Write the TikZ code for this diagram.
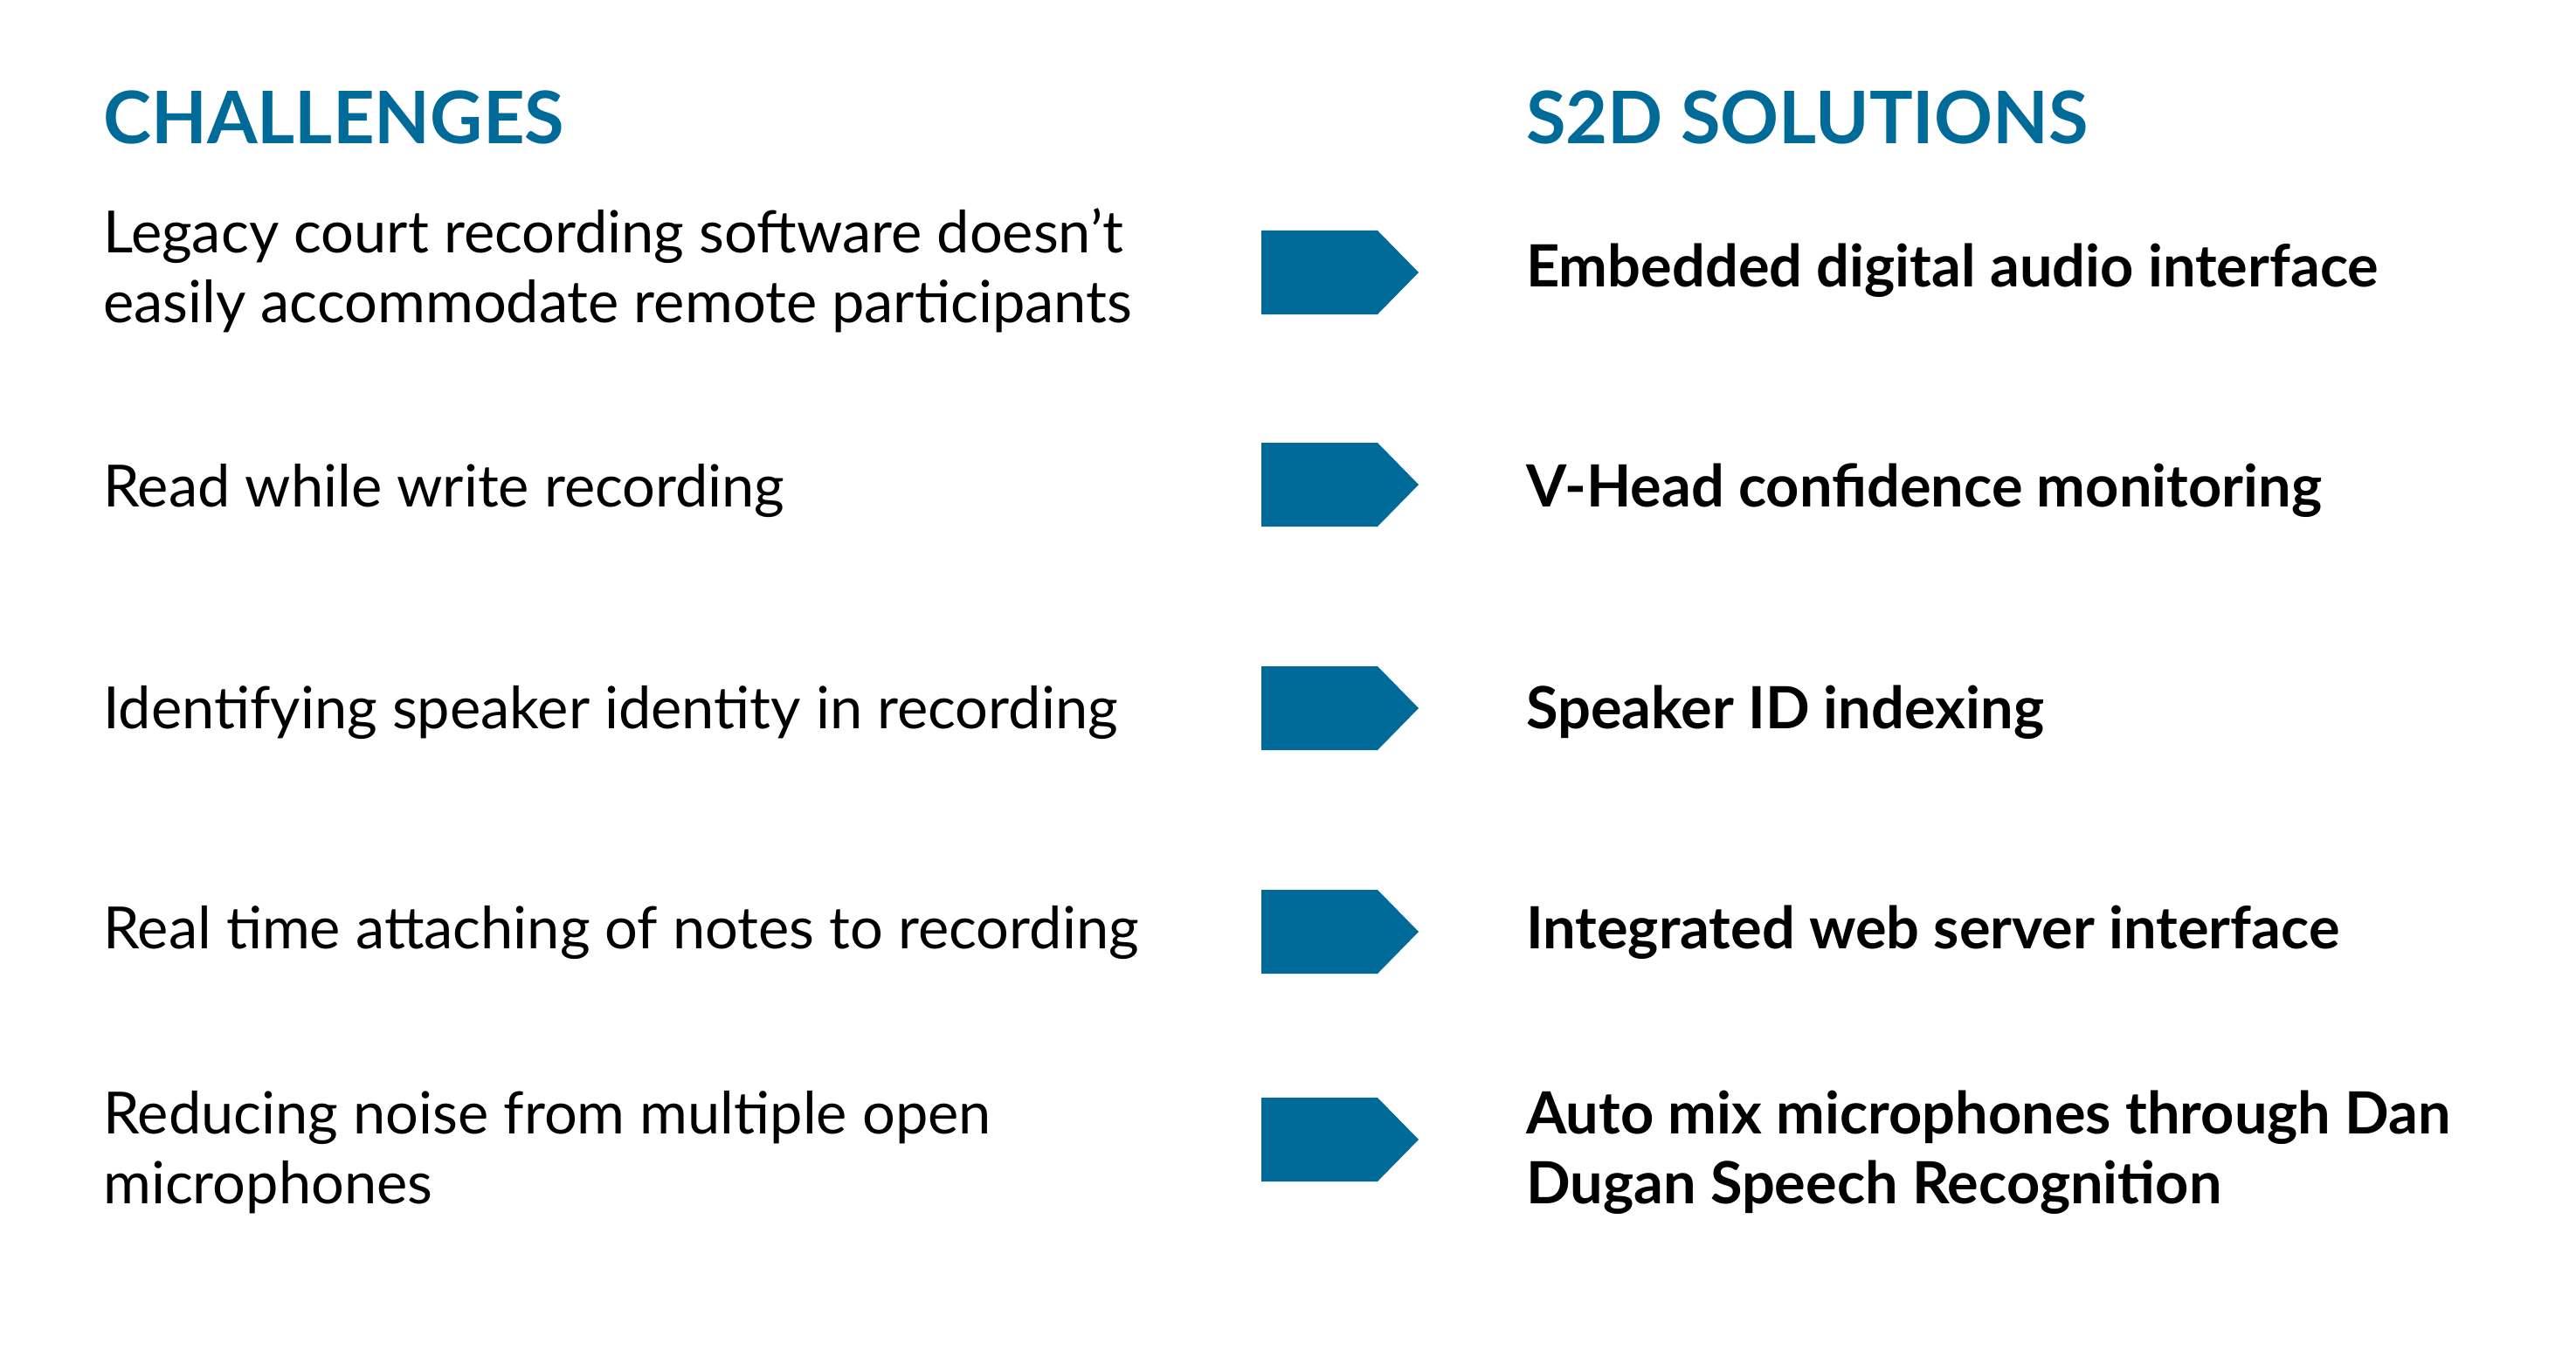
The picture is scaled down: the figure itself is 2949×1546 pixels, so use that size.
\documentclass[tikz,border=0pt]{standalone}
\usepackage{fontspec}
\setmainfont{Lato}
\usepackage{tikz}
\usetikzlibrary{positioning}
\usepackage{xcolor}
\definecolor{sdblue}{RGB}{0,106,152}

\begin{document}
\begin{tikzpicture}[x=1pt,y=-1pt,
	heading/.style={anchor=base west,inner sep=0pt,text=sdblue,font=\fontsize{83}{83}\selectfont\bfseries},
	challenge/.style={anchor=west,inner sep=0pt,align=left,font=\fontsize{66.7}{80}\selectfont},
	solution/.style={anchor=west,inner sep=0pt,align=left,font=\fontsize{66.7}{80}\selectfont\bfseries}]
	\useasboundingbox (0,0) rectangle (2949,1546);
	% headings
	\node [heading] (chal) at (118,165) {CHALLENGES};
	\node [heading] (sol) at (1747,165) {S2D SOLUTIONS};
	% rows: arrow, challenge, solution
	\foreach \a/\y/\c/\s [count=\i] in {
		312/310/{Legacy court recording software doesn’t\\easily accommodate remote participants}/{Embedded digital audio interface},
		555/562/{Read while write recording}/{V-Head confidence monitoring},
		811/816/{Identifying speaker identity in recording}/{Speaker ID indexing},
		1067/1068/{Real time attaching of notes to recording}/{Integrated web server interface},
		1305/1320/{Reducing noise from multiple open\\microphones}/{Auto mix microphones through Dan\\Dugan Speech Recognition}}
	{
		\node [challenge] (c\i) at (118,\y) {\c};
		\node [solution] (s\i) at (1747,\y) {\s};
		\fill [sdblue] (1444,\a-48)--(1577,\a-48)--(1624,\a)--(1577,\a+48)--(1444,\a+48)--cycle;
	}
\end{tikzpicture}
\end{document}
